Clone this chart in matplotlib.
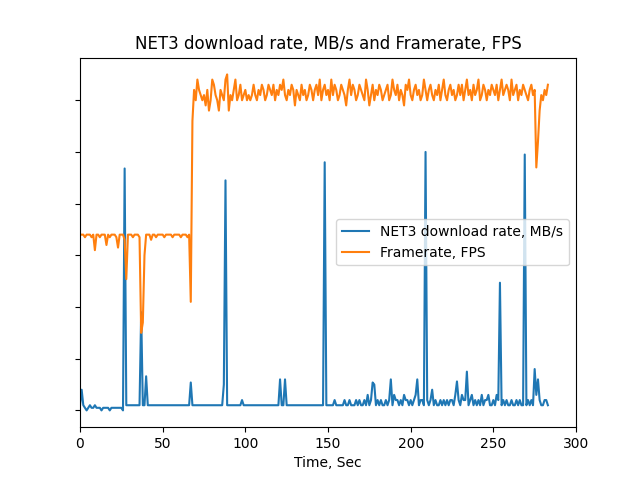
import numpy as np
import matplotlib.pyplot as plt

# seconds 0..283
time = list(range(284))

net3 = ([1, 4, 1, 0.5, 0, 0.5, 1, 0.5, 0.5, 1, 0.5, 0.5, 0.5, 0, 0.5, 0.5, 0.5, 0.5, 0, 0.5,
         0.5, 0.5, 0.5, 0.5, 0.5, 0.5, 0, 46.8, 1, 1, 1, 1, 1, 1, 1, 1, 1, 19, 1, 1,
         6.6, 1, 1, 1, 1, 1, 1, 1, 1, 1, 1, 1, 1, 1, 1, 1, 1, 1, 1, 1,
         1, 1, 1, 1, 1, 1, 1, 5.4, 1, 1]
        + [1] * 17 + [5, 44.5] + [1] * 9 + [2] + [1] * 22 + [6, 1, 1, 6] + [1] * 23 + [48]
        + [1, 1, 1, 1, 1, 2, 1, 1, 1, 1, 1, 2, 1, 1, 2, 1, 1, 1, 2, 1,
           2, 1, 1, 2, 1, 3, 1, 2, 5.4, 5, 1, 2, 1, 2, 1, 1, 2, 1, 2, 6,
           1, 3, 2, 2, 1, 2, 1, 3, 2, 2, 1, 2, 1, 2, 3, 6, 1, 2, 2, 1,
           50, 2, 1, 2, 4, 1, 2, 1, 1, 2, 1, 2, 1, 2, 1, 2, 2, 1, 3, 5.6,
           2, 1, 3, 2, 2, 7.5, 1, 2, 3, 1, 2, 1, 2, 1, 3, 1, 2, 2, 3, 1,
           1, 2, 1, 3, 2, 24.7, 1, 2, 1, 2, 1, 1, 2, 1, 1, 2, 1, 2, 1, 1,
           49.5, 1, 2, 1, 2, 1, 8, 3, 6, 2, 1, 1, 2, 2, 1])

fps = ([34, 34, 34, 33.5, 34, 34, 34, 33.5, 34, 31, 34, 34, 33.5, 34, 34, 34, 32, 34, 33.5, 34,
        34, 34, 33.5, 31.5, 34, 34, 34, 33, 25.4, 34, 34, 34, 33.5, 34, 34, 34, 33.5, 15, 17, 30,
        34, 34, 34, 33, 34, 34, 33.5, 34, 34, 34, 34, 33.5, 34, 34, 34, 34, 33.5, 34, 34, 34,
        34, 33.5, 34, 34, 34, 33.5, 34, 21, 56, 62]
       + [60, 64, 62, 61, 60, 61, 59, 62, 58, 60, 64, 63, 61, 60, 58, 62, 61, 60, 64, 65,
          58, 61, 60, 62, 64, 60, 61, 63, 60, 61, 62, 60, 61, 60, 61, 63, 61, 60, 62, 61,
          63, 62, 60, 61, 63, 62, 61, 63, 60, 62, 61, 63, 62, 64, 61, 60, 62, 61, 63, 62,
          59, 62, 61, 60, 63, 61, 62, 60, 61, 63, 62, 60, 62, 63, 61, 64, 60, 62, 63, 61,
          62, 60, 64, 61, 63, 62, 60, 61, 63, 62, 61, 59, 62, 64, 61, 63, 62, 60, 61, 63,
          62, 61, 60, 64, 62, 59, 61, 63, 60, 62, 61, 63, 62, 60, 61, 62, 63, 60, 61, 64,
          62, 61, 63, 60, 62, 61, 59, 63, 62, 64, 61, 60, 62, 63, 61, 62, 60, 61, 64, 62,
          60, 62, 63, 61, 60, 62, 61, 63, 60, 62, 64, 61, 60, 62, 63, 61, 62, 60, 61, 63,
          61, 63, 60, 62, 64, 61, 62, 60, 63, 61, 62, 64, 60, 61, 63, 62, 60, 62, 61, 63,
          62, 61, 63, 60, 62, 64, 61, 62, 63,
          62, 60, 64, 61, 62, 63, 60, 62, 61, 63, 62, 61, 60, 62, 63, 61, 62, 47, 52, 58,
          61, 60, 62, 61, 63])

plt.figure(figsize=(6.4, 4.8), dpi=100)
plt.plot(time[:len(net3)], net3, label='NET3 download rate, MB/s')
plt.plot(time[:len(fps)], fps, label='Framerate, FPS')
plt.xlim(0, 300)
plt.yticks(np.arange(0, 61, 10), [])
plt.xlabel('Time, Sec')
plt.title('NET3 download rate, MB/s and Framerate, FPS')
plt.legend(loc='center right')
plt.savefig('out.png')
